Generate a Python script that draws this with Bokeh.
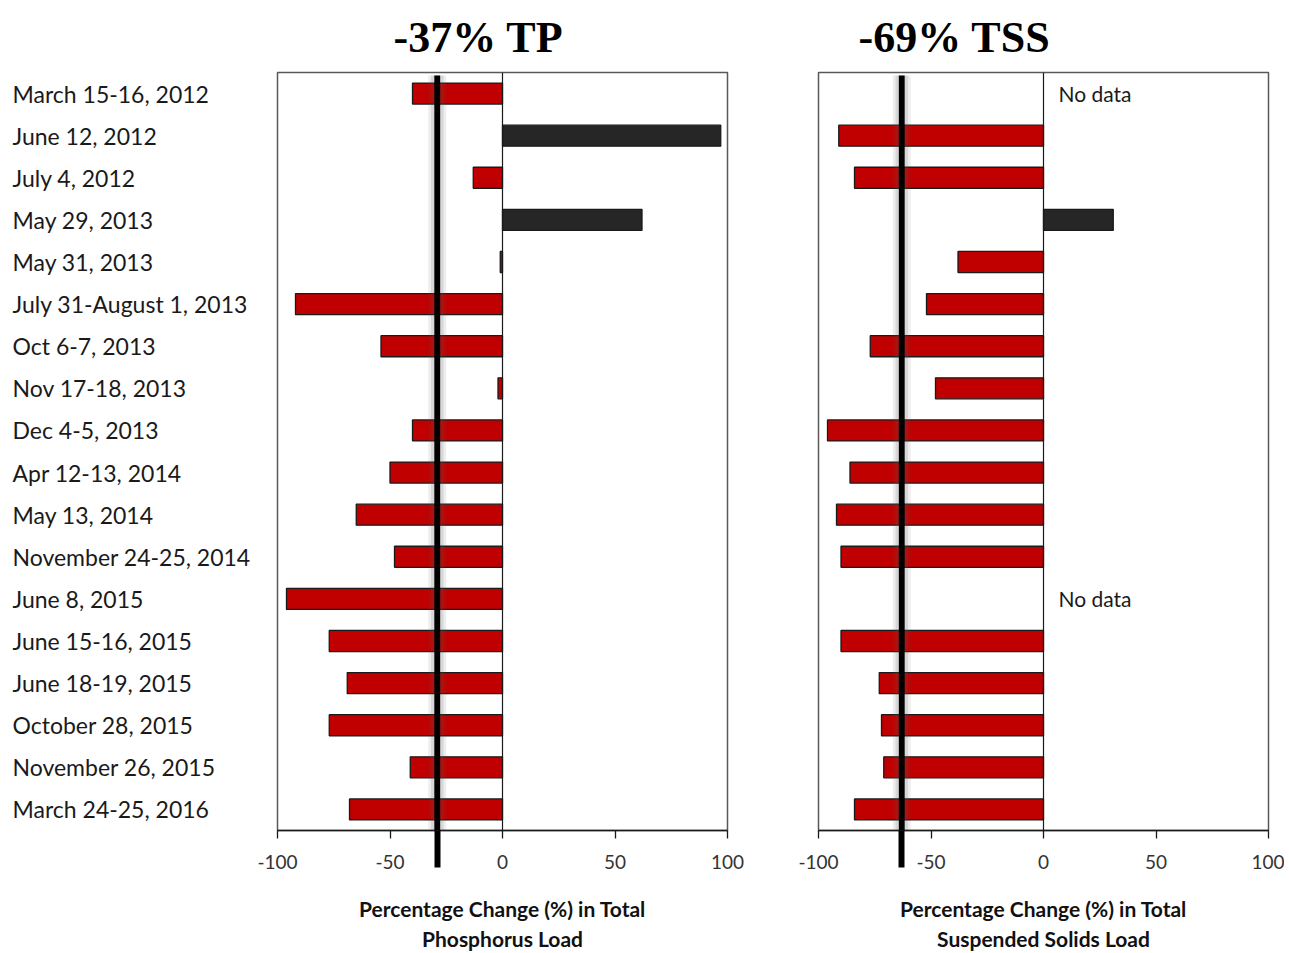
from bokeh.plotting import figure
from bokeh.models import FactorRange, Range1d, Span, BoxAnnotation, ColumnDataSource, FixedTicker
from bokeh.layouts import row
from bokeh.embed import file_html
from bokeh.resources import INLINE
from bokeh.core.properties import value

# ---------------- data ----------------
dates = [
    "March 15-16, 2012", "June 12, 2012", "July 4, 2012", "May 29, 2013",
    "May 31, 2013", "July 31-August 1, 2013", "Oct 6-7, 2013", "Nov 17-18, 2013",
    "Dec 4-5, 2013", "Apr 12-13, 2014", "May 13, 2014", "November 24-25, 2014",
    "June 8, 2015", "June 15-16, 2015", "June 18-19, 2015", "October 28, 2015",
    "November 26, 2015", "March 24-25, 2016",
]
tp_change = [-40, 97, -13, 62, -1, -92, -54, -2, -40, -50, -65, -48,
             -96, -77, -69, -77, -41, -68]
tss_change = [None, -91, -84, 31, -38, -52, -77, -48, -96, -86, -92, -90,
              None, -90, -73, -72, -71, -84]
tp_marker = -29
tss_marker = -63
tp_title = "-37% TP"
tss_title = "-69% TSS"
x_ticks = [-100, -50, 0, 50, 100]
tick_labels = {t: str(t) for t in x_ticks}
tp_xlabel = "Percentage Change (%) in Total\nPhosphorus Load"
tss_xlabel = "Percentage Change (%) in Total\nSuspended Solids Load"
no_data_text = "No data"

RED = "#C00000"
DARK = "#262626"
EDGE = "#1a1a1a"

TOP = 72
BOT = 123
FRAME_H = 758
H = TOP + FRAME_H + BOT
FRAME_W = 450
MARK_EXT = 37   # how far the marker line runs below the axis line (px)
TICK_OUT = 8

y_range = FactorRange(factors=list(reversed(dates)), range_padding=0)


def make_panel(vals, title, xlabel, marker, title_offset, bl, br):
    p = figure(width=bl + FRAME_W + br, height=H, y_range=y_range,
               x_range=Range1d(-100, 100), output_backend="svg",
               toolbar_location=None, min_border_top=TOP, min_border_bottom=BOT,
               min_border_left=bl, min_border_right=br, title=title)
    p.title.align = "left"
    p.title.offset = title_offset
    p.title.text_font = "Liberation Serif"
    p.title.text_font_style = "bold"
    p.title.text_font_size = "44px"
    p.title.text_color = "black"
    p.title.standoff = 21

    p.xgrid.visible = False
    p.ygrid.visible = False
    p.yaxis.visible = False
    p.outline_line_color = "#595959"
    p.outline_line_width = 1.5
    p.background_fill_color = "white"
    p.border_fill_color = "white"

    ax = p.xaxis[0]
    # the marker value is carried as a "minor tick" so that the thick line
    # continues below the axis line, as in the original
    ax.ticker = FixedTicker(ticks=x_ticks, minor_ticks=[marker])
    ax.major_label_overrides = tick_labels
    ax.axis_label = xlabel
    ax.major_tick_out = TICK_OUT
    ax.major_tick_in = 0
    ax.minor_tick_out = MARK_EXT
    ax.minor_tick_in = 0
    ax.minor_tick_line_color = "black"
    ax.minor_tick_line_width = 6
    ax.minor_tick_line_cap = "butt"
    ax.axis_line_color = EDGE
    ax.axis_line_width = 1.3
    ax.major_tick_line_color = EDGE
    ax.major_tick_line_width = 1.3
    ax.major_label_text_font = "Lato"
    ax.major_label_text_font_size = "19px"
    ax.major_label_text_color = "#333333"
    ax.major_label_standoff = 16 - (MARK_EXT - TICK_OUT)
    ax.axis_label_standoff = 24
    ax.axis_label_text_font = "Lato"
    ax.axis_label_text_font_style = "bold"
    ax.axis_label_text_font_size = "21px"
    ax.axis_label_text_color = "#111111"
    ax.axis_label_text_line_height = 1.2

    ys, vs, cs = [], [], []
    nd = []
    for d, v in zip(dates, vals):
        if v is None:
            nd.append(d)
            continue
        ys.append(d)
        vs.append(v)
        cs.append(DARK if v > 0 else RED)
    src = ColumnDataSource(dict(y=ys, v=vs, c=cs))
    p.hbar(y="y", left=0, right="v", height=0.5, fill_color="c",
           line_color=EDGE, line_width=1.3, source=src)

    p.add_layout(Span(location=0, dimension="height", line_color=EDGE,
                      line_width=1.2))

    if nd:
        p.text(x=[0] * len(nd), y=nd, text=[no_data_text] * len(nd),
               x_offset=15, text_align="left", text_baseline="middle",
               text_font=value("Lato"), text_font_size="21px",
               text_color="#1a1a1a")

    # highlighted reference line with soft shadow
    n = len(dates)
    top_y = n - 0.07
    for half, alpha in [(4.0, 0.10), (2.8, 0.15)]:
        p.add_layout(BoxAnnotation(left=marker - half, right=marker + half,
                                   top=top_y, bottom=0,
                                   fill_color="#555555", fill_alpha=alpha,
                                   line_color=None, level="overlay"))
    p.add_layout(BoxAnnotation(left=marker - 1.3, right=marker + 1.3,
                               top=top_y, bottom=0,
                               fill_color="black", fill_alpha=1.0,
                               line_color=None, level="overlay"))
    return p


lab = figure(width=252, height=H, y_range=y_range, x_range=Range1d(0, 252),
             output_backend="svg", toolbar_location=None,
             min_border_top=TOP, min_border_bottom=BOT,
             min_border_left=0, min_border_right=0)
lab.axis.visible = False
lab.grid.visible = False
lab.outline_line_color = None
lab.text(x=[0] * len(dates), y=dates, text=dates, x_offset=12,
         text_align="left", text_baseline="middle",
         text_font=value("Lato"), text_font_size="23px", text_color="#1a1a1a")

p1 = make_panel(tp_change, tp_title, tp_xlabel, tp_marker, 116, 25, 45)
p2 = make_panel(tss_change, tss_title, tss_xlabel, tss_marker, 40, 46, 16)

layout = row(lab, p1, p2)
open("out.html", "w").write(file_html(layout, INLINE))
